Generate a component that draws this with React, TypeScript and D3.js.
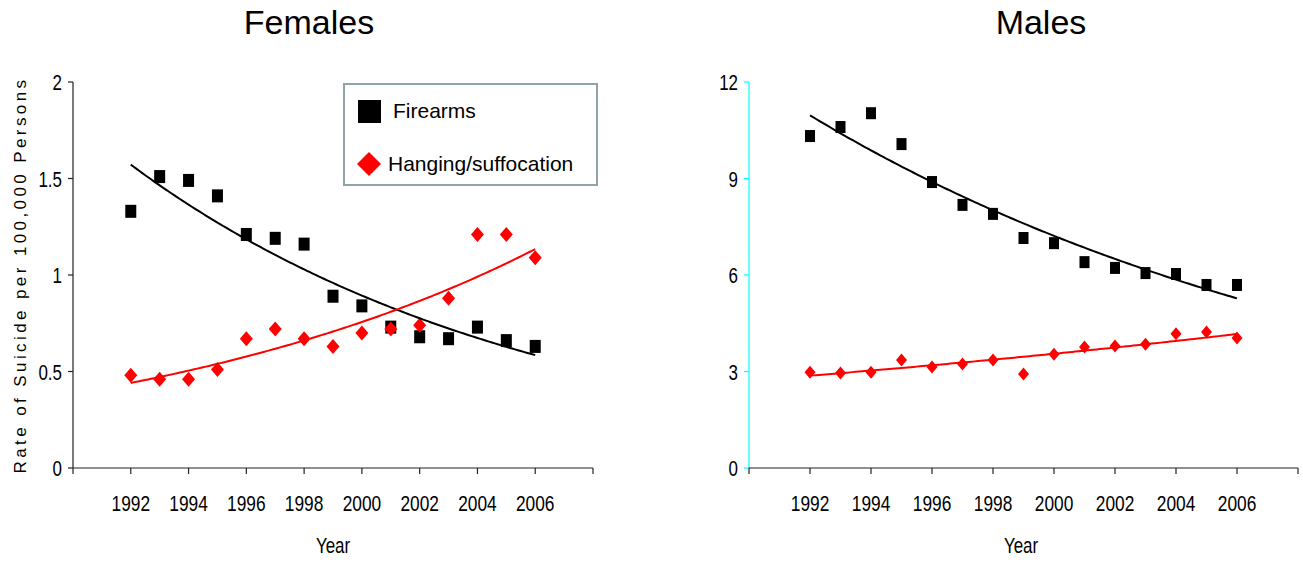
import React from "react";
import * as d3 from "d3";

const years = [1992, 1993, 1994, 1995, 1996, 1997, 1998, 1999, 2000, 2001, 2002, 2003, 2004, 2005, 2006];
const femaleFirearms = [1.33, 1.51, 1.49, 1.41, 1.21, 1.19, 1.16, 0.89, 0.84, 0.73, 0.68, 0.67, 0.73, 0.66, 0.63];
const femaleHanging = [0.48, 0.46, 0.46, 0.51, 0.67, 0.72, 0.67, 0.63, 0.70, 0.72, 0.74, 0.88, 1.21, 1.21, 1.09];
const maleFirearms = [10.32, 10.6, 11.03, 10.07, 8.89, 8.18, 7.9, 7.15, 6.99, 6.4, 6.22, 6.06, 6.03, 5.69, 5.69];
const maleHanging = [2.98, 2.95, 2.98, 3.36, 3.14, 3.23, 3.36, 2.92, 3.54, 3.76, 3.79, 3.85, 4.17, 4.23, 4.04];

const xTicks = [1990, 1992, 1994, 1996, 1998, 2000, 2002, 2004, 2006, 2008];
const xLabels = [1992, 1994, 1996, 1998, 2000, 2002, 2004, 2006];
const femaleYTicks = [0, 0.5, 1, 1.5, 2];
const maleYTicks = [0, 3, 6, 9, 12];
const legendLabels = ["Firearms", "Hanging/suffocation"];

const SANS = "'Liberation Sans', Arial, sans-serif";
const NS = 0.77; // horizontal condensation to mimic a narrow face

function expFit(xs: number[], ys: number[]) {
  const lx = xs.map((x) => x - xs[0]);
  const ly = ys.map((y) => Math.log(y));
  const mx = d3.mean(lx)!;
  const my = d3.mean(ly)!;
  let sxy = 0, sxx = 0;
  lx.forEach((x, i) => { sxy += (x - mx) * (ly[i] - my); sxx += (x - mx) * (x - mx); });
  const b = sxy / sxx;
  const a = my - b * mx;
  return (x: number) => Math.exp(a + b * (x - xs[0]));
}

function NText({ x, y, anchor, size, children }: { x: number; y: number; anchor: string; size: number; children: React.ReactNode }) {
  return (
    <text transform={`translate(${x},${y}) scale(${NS},1)`} textAnchor={anchor} fontFamily={SANS} fontSize={size} fill="#000">
      {children}
    </text>
  );
}

type PanelProps = {
  title: string;
  x0: number; x1: number;
  yMax: number; yTicks: number[];
  firearms: number[]; hanging: number[];
  axisColor: string;
  sq: [number, number]; dm: [number, number];
  titleX: number; yearX: number;
};

function Panel({ title, x0, x1, yMax, yTicks, firearms, hanging, axisColor, sq, dm, titleX, yearX }: PanelProps) {
  const x = d3.scaleLinear().domain([1990, 2008]).range([x0, x1]);
  const y = d3.scaleLinear().domain([0, yMax]).range([468, 82]);
  const fitF = expFit(years, firearms);
  const fitH = expFit(years, hanging);
  const samples = d3.range(1992, 2006.001, 0.1);
  const pathF = d3.line<number>().x((d) => x(d)).y((d) => y(fitF(d)))(samples) || "";
  const pathH = d3.line<number>().x((d) => x(d)).y((d) => y(fitH(d)))(samples) || "";
  const diamond = (cx: number, cy: number) =>
    `M${cx},${cy - dm[1]}L${cx + dm[0]},${cy}L${cx},${cy + dm[1]}L${cx - dm[0]},${cy}Z`;
  return (
    <g>
      <text x={titleX} y={34} textAnchor="middle" fontFamily={SANS} fontSize={34} fill="#000">{title}</text>
      <line x1={x0} x2={x0} y1={y(yMax)} y2={y(0)} stroke={axisColor} strokeWidth={1.2} />
      {yTicks.map((t) => (
        <g key={t}>
          <line x1={x0 - 5} x2={x0} y1={y(t)} y2={y(t)} stroke={axisColor} strokeWidth={1.2} />
          <NText x={x0 - 11} y={y(t) + 8} anchor="end" size={22}>{t}</NText>
        </g>
      ))}
      <line x1={x0} x2={x1} y1={468} y2={468} stroke="#222" strokeWidth={1.2} />
      {xTicks.map((t) => (
        <line key={t} x1={x(t)} x2={x(t)} y1={468} y2={474} stroke="#222" strokeWidth={1.2} />
      ))}
      {xLabels.map((t) => (
        <NText key={t} x={x(t)} y={511} anchor="middle" size={22.5}>{t}</NText>
      ))}
      <NText x={yearX} y={553} anchor="middle" size={22}>Year</NText>
      {years.map((yr, i) => (
        <rect key={"f" + yr} x={x(yr) - sq[0] / 2} y={y(firearms[i]) - sq[1] / 2} width={sq[0]} height={sq[1]} fill="#000" />
      ))}
      {years.map((yr, i) => (
        <path key={"h" + yr} d={diamond(x(yr), y(hanging[i]))} fill="#ff0000" />
      ))}
      <path d={pathF} fill="none" stroke="#000" strokeWidth={2} />
      <path d={pathH} fill="none" stroke="#ff0000" strokeWidth={2} />
    </g>
  );
}

export default function App() {
  return (
    <svg width={1303} height={562} style={{ position: "absolute", left: 0, top: 0, background: "#fff" }}>
      <rect x={0} y={0} width={1303} height={562} fill="#fff" />
      <Panel title="Females" x0={73} x1={593} yMax={2} yTicks={femaleYTicks}
        firearms={femaleFirearms} hanging={femaleHanging} axisColor="#222"
        sq={[11, 13]} dm={[6.5, 7.5]} titleX={309} yearX={333} />
      <Panel title="Males" x0={749} x1={1298} yMax={12} yTicks={maleYTicks}
        firearms={maleFirearms} hanging={maleHanging} axisColor="#00ffff"
        sq={[10, 12]} dm={[5.5, 6.5]} titleX={1041} yearX={1021} />
      <text transform="translate(26,275) rotate(-90)" textAnchor="middle" fontFamily={SANS}
        fontSize={17} letterSpacing={3.4} fill="#000">Rate of Suicide per 100,000 Persons</text>
      <rect x={344} y={84} width={253} height={101} fill="#fff" stroke="#8fa3aa" strokeWidth={2} />
      <rect x={358} y={100} width={23} height={23} fill="#000" />
      <text x={393} y={118} fontFamily={SANS} fontSize={21} fill="#000">{legendLabels[0]}</text>
      <path d="M369,152L381,164L369,176L357,164Z" fill="#ff0000" />
      <text x={388} y={171} fontFamily={SANS} fontSize={21} fill="#000">{legendLabels[1]}</text>
    </svg>
  );
}
